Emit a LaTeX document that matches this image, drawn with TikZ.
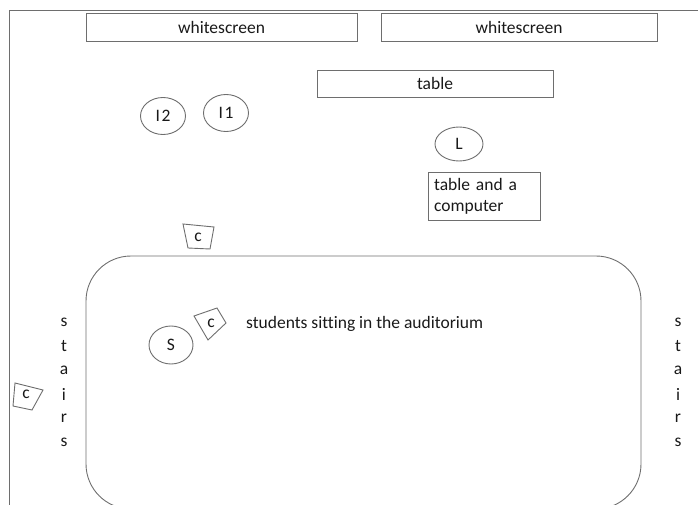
\documentclass[tikz,border=0pt]{standalone}
\usepackage{fontspec}
\setmainfont[Ligatures=NoCommon]{Carlito}
\usetikzlibrary{shapes.geometric}
\definecolor{linegray}{RGB}{110,110,110}
\definecolor{txt}{RGB}{25,25,25}
\tikzset{
  ln/.style={draw=linegray, line width=0.9pt},
  lbl/.style={font=\fontsize{17.5}{21}\selectfont, text=txt, inner sep=0pt},
  box/.style={ln, rectangle, inner sep=0pt},
  oval/.style={ln, ellipse, inner sep=0pt, font=\fontsize{17.5}{21}\selectfont, text=txt}
}
\begin{document}
\begin{tikzpicture}[x=1pt,y=-1pt]
\useasboundingbox (0,0) rectangle (698,505);
% outer frame
\draw[ln] (698,10) -- (9,10) -- (9,505);
% screens and table
\node[box, minimum width=271pt, minimum height=28pt, lbl] (ws1) at (221.5,27) {whitescreen};
\node[box, minimum width=276pt, minimum height=28pt, lbl] (ws2) at (519,27) {whitescreen};
\node[box, minimum width=236pt, minimum height=27pt, lbl] (table) at (435,83.5) {table};
% people
\node[oval, minimum width=45pt, minimum height=37pt] (i2) at (163,116) {I\kern1.5pt 2};
\node[oval, minimum width=45pt, minimum height=37pt] (i1) at (226,113) {I\kern1.5pt 1};
\node[oval, minimum width=48pt, minimum height=34pt] (lect) at (459,144) {L};
\node[box, minimum width=112pt, minimum height=48pt] (comp) at (484,196) {};
\node[lbl, anchor=north west, align=left, text width=105pt] (comptxt) at (434,178) {table and a\\computer};
% auditorium
\draw[ln, rounded corners=45pt] (86,256) rectangle (641,509);
\node[oval, minimum width=44pt, minimum height=38pt] (s) at (171,345) {S};
\node[lbl, anchor=west] (studtxt) at (246,324) {students sitting in the auditorium};
% cameras
\draw[ln] (183,224) -- (214,227) -- (210,249) -- (188,248) -- cycle;
\node[lbl] (c1) at (198,237) {c};
\draw[ln] (194,316) -- (217,308) -- (226,323) -- (208,340) -- cycle;
\node[lbl] (c2) at (211,323) {c};
\draw[ln] (15,383) -- (43,390) -- (32,410) -- (13,406) -- cycle;
\node[lbl] (c3) at (26,394) {c};
% stairs
\foreach \ch [count=\i from 0] in {s,t,a,i,r,s}{
  \node[lbl] (sl\i) at (64,322+24*\i) {\ch};
  \node[lbl] (sr\i) at (678,322+24*\i) {\ch};
}
\end{tikzpicture}
\end{document}
